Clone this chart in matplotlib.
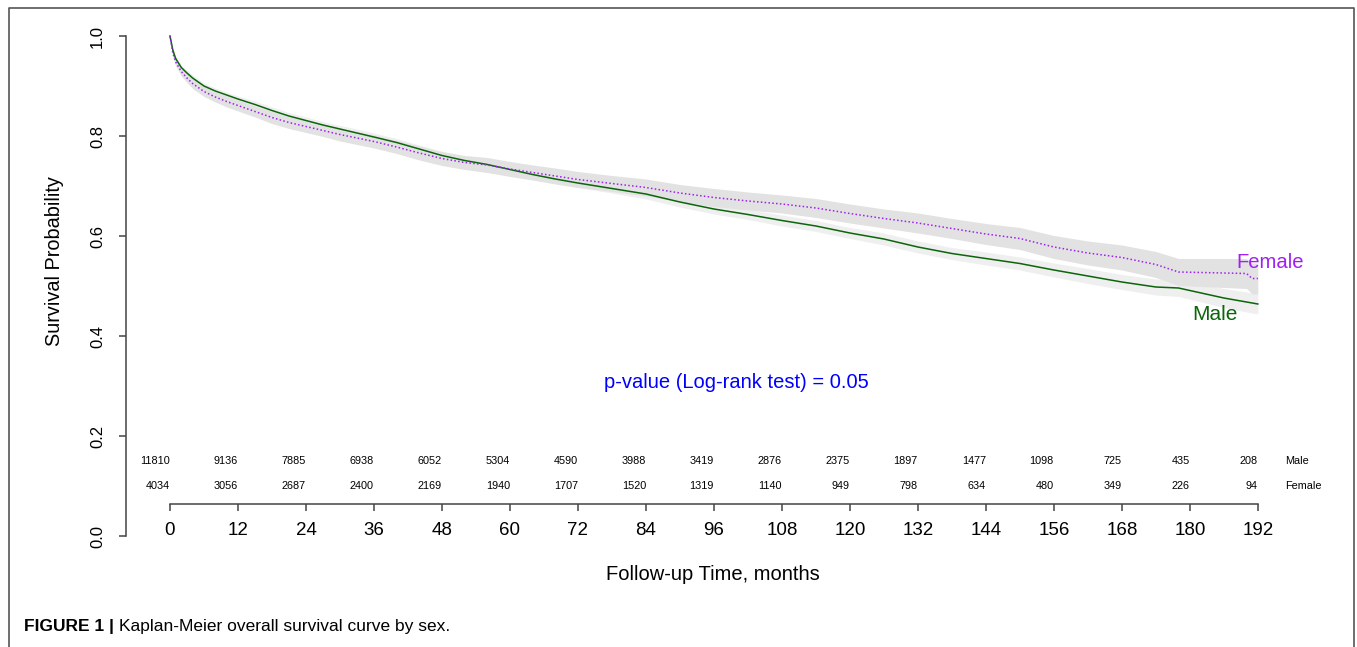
import matplotlib
matplotlib.use('Agg')
import matplotlib.pyplot as plt
from matplotlib.lines import Line2D
import numpy as np

plt.rcParams['font.family'] = ['Liberation Sans', 'DejaVu Sans']

# Kaplan-Meier estimates by sex (months, survival, half-width of 95% CI)
male_t = [0, 0.5, 1, 2, 3, 4, 6, 8, 10, 12, 15, 18, 21, 24, 27, 30, 33, 36, 40, 44,
          48, 52, 56, 60, 64, 68, 72, 78, 84, 90, 96, 102, 108, 114, 120, 126, 132,
          138, 144, 150, 156, 162, 168, 174, 178, 182, 186, 190, 192]
male_s = [1.0, 0.972, 0.955, 0.937, 0.926, 0.916, 0.900, 0.890, 0.882, 0.874, 0.863,
          0.851, 0.840, 0.831, 0.822, 0.814, 0.806, 0.798, 0.787, 0.774, 0.761, 0.751,
          0.743, 0.733, 0.723, 0.714, 0.706, 0.695, 0.684, 0.668, 0.654, 0.643, 0.631,
          0.620, 0.606, 0.594, 0.578, 0.565, 0.555, 0.545, 0.532, 0.520, 0.508, 0.498,
          0.496, 0.486, 0.476, 0.468, 0.464]
male_ci = [0.0, 0.004, 0.005, 0.005, 0.006, 0.006, 0.006, 0.006, 0.006, 0.006, 0.007,
           0.007, 0.007, 0.007, 0.007, 0.007, 0.008, 0.008, 0.008, 0.008, 0.008, 0.008,
           0.008, 0.009, 0.009, 0.009, 0.009, 0.009, 0.010, 0.010, 0.010, 0.010, 0.011,
           0.011, 0.011, 0.012, 0.012, 0.012, 0.013, 0.013, 0.014, 0.015, 0.015, 0.016,
           0.017, 0.018, 0.019, 0.020, 0.020]

female_t = [0, 0.5, 1, 2, 3, 4, 6, 8, 10, 12, 15, 18, 21, 24, 27, 30, 33, 36, 40, 44,
            48, 52, 56, 60, 64, 68, 72, 78, 84, 90, 96, 102, 108, 114, 120, 126, 132,
            138, 144, 150, 156, 162, 168, 174, 178, 182, 186, 190, 191, 192]
female_s = [1.0, 0.966, 0.948, 0.929, 0.916, 0.905, 0.889, 0.878, 0.869, 0.861, 0.849,
            0.837, 0.827, 0.819, 0.811, 0.803, 0.796, 0.789, 0.778, 0.766, 0.755, 0.747,
            0.742, 0.734, 0.727, 0.720, 0.713, 0.705, 0.697, 0.686, 0.677, 0.670, 0.664,
            0.656, 0.645, 0.635, 0.626, 0.615, 0.604, 0.595, 0.578, 0.566, 0.557, 0.543,
            0.528, 0.527, 0.526, 0.525, 0.515, 0.515]
female_ci = [0.0, 0.007, 0.008, 0.009, 0.009, 0.010, 0.010, 0.010, 0.011, 0.011, 0.011,
             0.012, 0.012, 0.012, 0.012, 0.013, 0.013, 0.013, 0.013, 0.014, 0.014, 0.014,
             0.015, 0.015, 0.015, 0.016, 0.016, 0.016, 0.017, 0.017, 0.018, 0.018, 0.018,
             0.019, 0.019, 0.019, 0.020, 0.020, 0.021, 0.022, 0.023, 0.024, 0.025, 0.026,
             0.027, 0.028, 0.029, 0.030, 0.031, 0.031]

# number at risk table
risk_months = [0, 12, 24, 36, 48, 60, 72, 84, 96, 108, 120, 132, 144, 156, 168, 180, 192]
male_at_risk = [11810, 9136, 7885, 6938, 6052, 5304, 4590, 3988, 3419, 2876, 2375,
                1897, 1477, 1098, 725, 435, 208]
female_at_risk = [4034, 3056, 2687, 2400, 2169, 1940, 1707, 1520, 1319, 1140, 949,
                  798, 634, 480, 349, 226, 94]

male_col = '#0b650b'
female_col = '#a020f0'

fig = plt.figure(figsize=(13.57, 6.47), dpi=100)
ax = fig.add_axes([126 / 1357, 1 - 546 / 647, (1340 - 126) / 1357, 520 / 647])

ms = np.array(male_s)
mc = np.array(male_ci)
fs = np.array(female_s)
fc = np.array(female_ci)
ax.fill_between(male_t, ms - mc, ms + mc, color='#efefef', lw=0, zorder=1)
ax.fill_between(female_t, fs - fc, fs + fc, color='#e2e2e2', lw=0, zorder=1)
ax.plot(male_t, male_s, color=male_col, lw=1.1, zorder=3)
ax.plot(female_t, female_s, color=female_col, lw=1.1, ls=(0, (1, 1.5)), zorder=3)

ax.set_xlim(-7.76, 206.5)
ax.set_ylim(-0.02, 1.02)

for s in ['top', 'right']:
    ax.spines[s].set_visible(False)
ax.spines['left'].set_bounds(0, 1)
ax.spines['bottom'].set_position(('data', 0.064))
ax.spines['bottom'].set_bounds(0, 192)
for s in ['left', 'bottom']:
    ax.spines[s].set_color('#444444')
    ax.spines[s].set_linewidth(1.1)

ax.set_xticks(risk_months)
ax.set_yticks([0.0, 0.2, 0.4, 0.6, 0.8, 1.0])
ax.set_yticklabels(['0.0', '0.2', '0.4', '0.6', '0.8', '1.0'], rotation=90, va='center')
ax.tick_params(axis='x', direction='out', length=5, width=1.1, color='#444444',
               labelsize=13.5, pad=8)
ax.tick_params(axis='y', direction='out', length=5, width=1.1, color='#444444',
               labelsize=12, pad=10)

# number at risk
for m, n1, n2 in zip(risk_months, male_at_risk, female_at_risk):
    ax.text(m, 0.15, str(n1), ha='right', va='center', fontsize=7.8)
    ax.text(m, 0.10, str(n2), ha='right', va='center', fontsize=7.8)
ax.text(196.8, 0.15, 'Male', ha='left', va='center', fontsize=7.8)
ax.text(196.8, 0.10, 'Female', ha='left', va='center', fontsize=7.8)

ax.text(194.1, 0.546, 'Female', color=female_col, ha='center', va='center', fontsize=14.6)
ax.text(184.4, 0.442, 'Male', color=male_col, ha='center', va='center', fontsize=15)
ax.text(99.9, 0.306, 'p-value (Log-rank test) = 0.05', color='#0000ff',
        ha='center', va='center', fontsize=14.5)

fig.text(55 / 1357, 1 - 261 / 647, 'Survival Probability', rotation=90,
         ha='center', va='center', fontsize=14.3)
fig.text(713 / 1357, 1 - 574 / 647, 'Follow-up Time, months',
         ha='center', va='center', fontsize=14.5)

# caption
cap = fig.text(24 / 1357, 1 - 626 / 647, 'FIGURE 1 |', fontweight='bold',
               ha='left', va='center', fontsize=12.5)
fig.canvas.draw()
bb = cap.get_window_extent()
fig.text(bb.x1 / 1357 + 5 / 1357, 1 - 626 / 647,
         'Kaplan-Meier overall survival curve by sex.', ha='left', va='center',
         fontsize=12.5)

# outer frame
frame_x = [9 / 1357, 9 / 1357, 1354 / 1357, 1354 / 1357]
frame_y = [0, 1 - 8 / 647, 1 - 8 / 647, 0]
fig.add_artist(Line2D(frame_x, frame_y, transform=fig.transFigure,
                      color='#555555', lw=1.2))

fig.savefig('out.png', dpi=100)
